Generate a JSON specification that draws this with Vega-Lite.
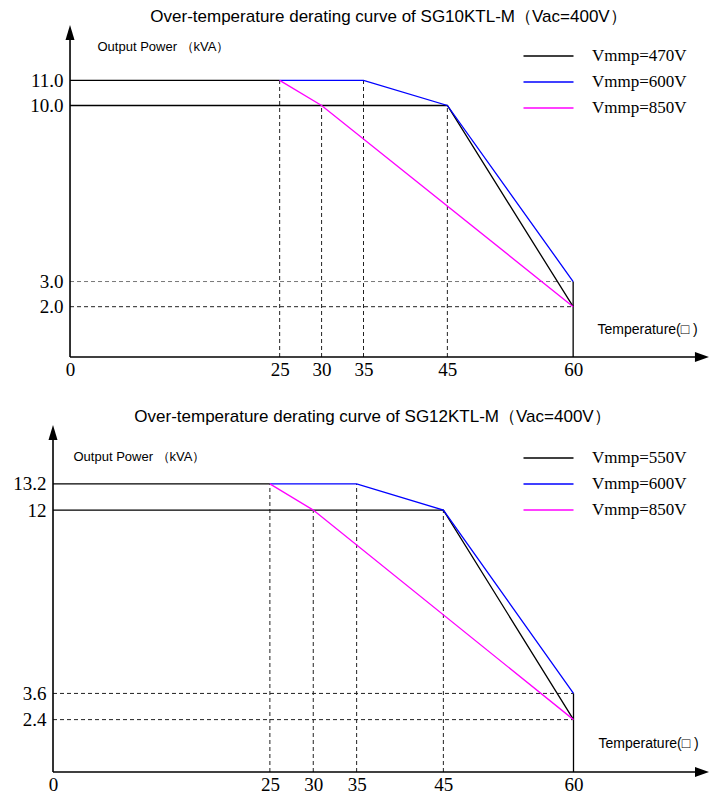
{
  "$schema": "https://vega.github.io/schema/vega-lite/v6.json",
  "background": "white",
  "padding": {"left": 0, "top": 8, "right": 0, "bottom": 0},
  "autosize": {"type": "pad"},
  "bounds": "flush",
  "spacing": 68,
  "resolve": {
    "scale": {"color": "independent", "x": "independent", "y": "independent"},
    "legend": {"color": "independent"},
    "axis": {"x": "independent", "y": "independent"}
  },
  "config": {
    "view": {"stroke": null},
    "axis": {"grid": false, "ticks": false, "domain": false}
  },
  "vconcat": [
    {
      "width": 709,
      "height": 332,
      "title": {"text": "Over-temperature derating curve of SG10KTL-M（Vac=400V）", "font": "Liberation Sans", "fontSize": 17, "fontWeight": "normal", "color": "black", "anchor": "middle", "dx": 34, "offset": -18, "baseline": "bottom"},
      "encoding": {
        "x": {"field": "t", "type": "quantitative",
          "scale": {"domain": [-8.35, 76.2], "nice": false, "zero": false},
          "axis": {"values": [0, 25, 30, 35, 45, 60], "labelFont": "Liberation Serif", "labelFontSize": 19, "labelColor": "black", "labelPadding": 3, "labelFlush": false, "labelOverlap": false,
            "title": "Temperature(□ )", "titleFont": "Liberation Sans", "titleFontSize": 14, "titleFontWeight": "normal", "titleColor": "black", "titleX": 597, "titleY": -28, "titleAlign": "left", "titleBaseline": "middle"}},
        "y": {"field": "p", "type": "quantitative",
          "scale": {"domain": [0, 13.2], "nice": false, "zero": false},
          "axis": {"values": [2, 3, 10, 11], "format": ".1f", "offset": -70, "labelFont": "Liberation Serif", "labelFontSize": 19, "labelColor": "black", "labelPadding": 7, "labelOverlap": false,
            "title": "Output Power （kVA）", "titleFont": "Liberation Sans", "titleFontSize": 13, "titleFontWeight": "normal", "titleColor": "black", "titleAngle": 0, "titleX": 27, "titleY": 21, "titleAlign": "left", "titleBaseline": "middle"}}
      },
      "layer": [
        {
          "data": {"values": [{"t": 25, "p": 0, "p2": 11}, {"t": 30, "p": 0, "p2": 10}, {"t": 35, "p": 0, "p2": 11}, {"t": 45, "p": 0, "p2": 10}]},
          "mark": {"type": "rule", "strokeDash": [4, 3], "color": "#222222", "strokeWidth": 1},
          "encoding": {"y2": {"field": "p2"}}
        },
        {
          "data": {"values": [{"t": 0, "t2": 60, "p": 3}, {"t": 0, "t2": 60, "p": 2}]},
          "mark": {"type": "rule", "strokeDash": [4, 3], "strokeWidth": 1},
          "encoding": {"x2": {"field": "t2"}, "stroke": {"condition": {"test": "datum.p == 3", "value": "#777777"}, "value": "#222222"}}
        },
        {
          "data": {"values": [{"t": 0, "t2": 25, "p": 11, "p2": 11}, {"t": 60, "t2": 60, "p": 0, "p2": 3}]},
          "mark": {"type": "rule", "color": "black", "strokeWidth": 1.3},
          "encoding": {"x2": {"field": "t2"}, "y2": {"field": "p2"}}
        },
        {
          "data": {"values": [
            {"s": "Vmmp=470V", "t": 0, "p": 10}, {"s": "Vmmp=470V", "t": 45, "p": 10}, {"s": "Vmmp=470V", "t": 60, "p": 2},
            {"s": "Vmmp=600V", "t": 25, "p": 11}, {"s": "Vmmp=600V", "t": 35, "p": 11}, {"s": "Vmmp=600V", "t": 45, "p": 10}, {"s": "Vmmp=600V", "t": 60, "p": 3},
            {"s": "Vmmp=850V", "t": 25, "p": 11}, {"s": "Vmmp=850V", "t": 30, "p": 10}, {"s": "Vmmp=850V", "t": 60, "p": 2}
          ]},
          "mark": {"type": "line", "strokeWidth": 1.3},
          "encoding": {
            "color": {"field": "s", "type": "nominal",
              "scale": {"domain": ["Vmmp=470V", "Vmmp=600V", "Vmmp=850V"], "range": ["#000000", "#0000ff", "#ff00ff"]},
              "legend": {"orient": "none", "legendX": 540, "legendY": 22.5, "title": null, "symbolType": "M-5,0L5,0", "symbolSize": 100, "symbolStrokeWidth": 1.3, "labelFont": "Liberation Serif", "labelFontSize": 17, "labelColor": "black", "labelOffset": 35, "rowPadding": 8, "padding": 0, "labelLimit": 0}}
          }
        },
        {
          "data": {"values": [{"t": 0, "t2": 75.4, "p": 0, "p2": 0}, {"t": 0, "t2": 0, "p": 0, "p2": 12.9}]},
          "mark": {"type": "rule", "color": "black", "strokeWidth": 1.6},
          "encoding": {"x2": {"field": "t2"}, "y2": {"field": "p2"}}
        },
        {
          "data": {"values": [{"t": 75.36, "p": 0}]},
          "mark": {"type": "point", "shape": "M1,0L-1,-0.7L-1,0.7Z", "size": 196, "filled": true, "color": "black", "opacity": 1, "strokeWidth": 0}
        },
        {
          "data": {"values": [{"t": 0, "p": 12.9}]},
          "mark": {"type": "point", "shape": "M0,-1L0.6,1L-0.6,1Z", "size": 225, "filled": true, "color": "black", "opacity": 1, "strokeWidth": 0}
        }
      ]
    },
    {
      "width": 709,
      "height": 347,
      "title": {"text": "Over-temperature derating curve of SG12KTL-M（Vac=400V）", "font": "Liberation Sans", "fontSize": 17, "fontWeight": "normal", "color": "black", "anchor": "middle", "dx": 18, "offset": -18, "baseline": "bottom"},
      "encoding": {
        "x": {"field": "t", "type": "quantitative",
          "scale": {"domain": [-6.11, 75.62], "nice": false, "zero": false},
          "axis": {"values": [0, 25, 30, 35, 45, 60], "labelFont": "Liberation Serif", "labelFontSize": 19, "labelColor": "black", "labelPadding": 3, "labelFlush": false, "labelOverlap": false,
            "title": "Temperature(□ )", "titleFont": "Liberation Sans", "titleFontSize": 14, "titleFontWeight": "normal", "titleColor": "black", "titleX": 598, "titleY": -29, "titleAlign": "left", "titleBaseline": "middle"}},
        "y": {"field": "p", "type": "quantitative",
          "scale": {"domain": [0, 15.9], "nice": false, "zero": false},
          "axis": {"values": [2.4, 3.6, 12, 13.2], "labelExpr": "datum.value == 12 ? '12' : format(datum.value, '.1f')", "offset": -53, "labelFont": "Liberation Serif", "labelFontSize": 19, "labelColor": "black", "labelPadding": 7, "labelOverlap": false,
            "title": "Output Power （kVA）", "titleFont": "Liberation Sans", "titleFontSize": 13, "titleFontWeight": "normal", "titleColor": "black", "titleAngle": 0, "titleX": 20, "titleY": 31, "titleAlign": "left", "titleBaseline": "middle"}}
      },
      "layer": [
        {
          "data": {"values": [{"t": 25, "p": 0, "p2": 13.2}, {"t": 30, "p": 0, "p2": 12}, {"t": 35, "p": 0, "p2": 13.2}, {"t": 45, "p": 0, "p2": 12}]},
          "mark": {"type": "rule", "strokeDash": [4, 3], "color": "#222222", "strokeWidth": 1},
          "encoding": {"y2": {"field": "p2"}}
        },
        {
          "data": {"values": [{"t": 0, "t2": 60, "p": 3.6}, {"t": 0, "t2": 60, "p": 2.4}]},
          "mark": {"type": "rule", "strokeDash": [4, 3], "strokeWidth": 1, "color": "#222222"},
          "encoding": {"x2": {"field": "t2"}}
        },
        {
          "data": {"values": [{"t": 0, "t2": 25, "p": 13.2, "p2": 13.2}, {"t": 60, "t2": 60, "p": 0, "p2": 3.6}]},
          "mark": {"type": "rule", "color": "black", "strokeWidth": 1.3},
          "encoding": {"x2": {"field": "t2"}, "y2": {"field": "p2"}}
        },
        {
          "data": {"values": [
            {"s": "Vmmp=550V", "t": 0, "p": 12}, {"s": "Vmmp=550V", "t": 45, "p": 12}, {"s": "Vmmp=550V", "t": 60, "p": 2.4},
            {"s": "Vmmp=600V", "t": 25, "p": 13.2}, {"s": "Vmmp=600V", "t": 35, "p": 13.2}, {"s": "Vmmp=600V", "t": 45, "p": 12}, {"s": "Vmmp=600V", "t": 60, "p": 3.6},
            {"s": "Vmmp=850V", "t": 25, "p": 13.2}, {"s": "Vmmp=850V", "t": 30, "p": 12}, {"s": "Vmmp=850V", "t": 60, "p": 2.4}
          ]},
          "mark": {"type": "line", "strokeWidth": 1.3},
          "encoding": {
            "color": {"field": "s", "type": "nominal",
              "scale": {"domain": ["Vmmp=550V", "Vmmp=600V", "Vmmp=850V"], "range": ["#000000", "#0000ff", "#ff00ff"]},
              "legend": {"orient": "none", "legendX": 540, "legendY": 24.5, "title": null, "symbolType": "M-5,0L5,0", "symbolSize": 100, "symbolStrokeWidth": 1.3, "labelFont": "Liberation Serif", "labelFontSize": 17, "labelColor": "black", "labelOffset": 35, "rowPadding": 8, "padding": 0, "labelLimit": 0}}
          }
        },
        {
          "data": {"values": [{"t": 0, "t2": 74.85, "p": 0, "p2": 0}, {"t": 0, "t2": 0, "p": 0, "p2": 15.56}]},
          "mark": {"type": "rule", "color": "black", "strokeWidth": 1.6},
          "encoding": {"x2": {"field": "t2"}, "y2": {"field": "p2"}}
        },
        {
          "data": {"values": [{"t": 74.81, "p": 0}]},
          "mark": {"type": "point", "shape": "M1,0L-1,-0.7L-1,0.7Z", "size": 196, "filled": true, "color": "black", "opacity": 1, "strokeWidth": 0}
        },
        {
          "data": {"values": [{"t": 0, "p": 15.56}]},
          "mark": {"type": "point", "shape": "M0,-1L0.6,1L-0.6,1Z", "size": 225, "filled": true, "color": "black", "opacity": 1, "strokeWidth": 0}
        }
      ]
    }
  ]
}
